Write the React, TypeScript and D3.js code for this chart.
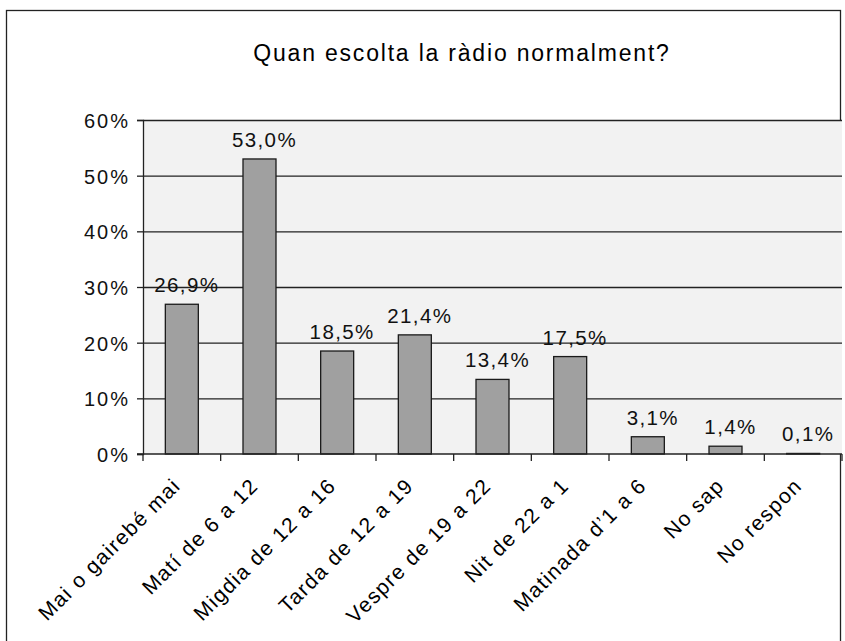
import { useEffect, useRef } from 'react';
import * as d3 from 'd3';

const categories = [
  'Mai o gairebé mai',
  'Matí de 6 a 12',
  'Migdia de 12 a 16',
  'Tarda de 12 a 19',
  'Vespre de 19 a 22',
  'Nit de 22 a 1',
  "Matinada d'1 a 6",
  'No sap',
  'No respon',
];
const values = [26.9, 53.0, 18.5, 21.4, 13.4, 17.5, 3.1, 1.4, 0.1];
const yTicks = [0, 10, 20, 30, 40, 50, 60];
const title = 'Quan escolta la ràdio normalment?';

const W = 845;
const H = 641;
const FONT = '"Liberation Sans", Arial, Helvetica, sans-serif';

export default function App() {
  const svgRef = useRef<SVGSVGElement>(null);

  useEffect(() => {
    if (!svgRef.current) return;
    const svg = d3.select(svgRef.current);
    svg.selectAll('*').remove();

    const plot = { left: 143, right: 842, top: 120, bottom: 454 };

    // outer frame
    svg.append('rect')
      .attr('x', 6.5).attr('y', 10.5)
      .attr('width', 834).attr('height', 660)
      .attr('fill', '#fff')
      .attr('stroke', '#222').attr('stroke-width', 1.3);

    svg.append('text')
      .attr('x', 462).attr('y', 61)
      .attr('text-anchor', 'middle')
      .style('font-family', FONT)
      .style('font-size', '23px')
      .style('letter-spacing', '1.8px')
      .style('fill', '#000')
      .text(title);

    const x = d3.scaleBand()
      .domain(categories)
      .range([plot.left, plot.right])
      .paddingInner(0)
      .paddingOuter(0);

    const y = d3.scaleLinear()
      .domain([0, 60])
      .range([plot.bottom, plot.top]);

    // plot background
    svg.append('rect')
      .attr('x', plot.left).attr('y', plot.top)
      .attr('width', plot.right - plot.left)
      .attr('height', plot.bottom - plot.top)
      .attr('fill', '#f2f2f2');

    // gridlines
    svg.append('g')
      .attr('transform', `translate(${plot.left},0)`)
      .call(d3.axisLeft(y).tickValues(yTicks.slice(1))
        .tickSize(-(plot.right - plot.left)).tickFormat(() => ''))
      .call(g => g.select('.domain').remove())
      .selectAll('line')
      .attr('stroke', '#222').attr('stroke-width', 1.3);

    // bars
    const bw = 33;
    svg.append('g')
      .selectAll('rect')
      .data(values)
      .enter().append('rect')
      .attr('x', (d, i) => (x(categories[i]) || 0) + x.bandwidth() / 2 - bw / 2)
      .attr('y', d => y(d))
      .attr('width', bw)
      .attr('height', d => y(0) - y(d))
      .attr('fill', '#a0a0a0')
      .attr('stroke', '#1a1a1a')
      .attr('stroke-width', 1.3);

    // value labels
    svg.append('g')
      .selectAll('text')
      .data(values)
      .enter().append('text')
      .attr('x', (d, i) => (x(categories[i]) || 0) + x.bandwidth() / 2 + 5)
      .attr('y', d => y(d) - 12)
      .attr('text-anchor', 'middle')
      .style('font-family', FONT)
      .style('font-size', '20.5px')
      .style('letter-spacing', '1.4px')
      .style('fill', '#111')
      .text(d => d.toFixed(1).replace('.', ',') + '%');

    // y axis
    const yAxis = svg.append('g')
      .attr('transform', `translate(${plot.left},0)`)
      .call(d3.axisLeft(y).tickValues(yTicks).tickSize(6).tickPadding(7)
        .tickFormat(d => `${d}%`));
    yAxis.select('.domain').attr('stroke', '#222').attr('stroke-width', 1.3);
    yAxis.selectAll('line').attr('stroke', '#222').attr('stroke-width', 1.3);
    yAxis.selectAll('text')
      .attr('dy', '0.38em')
      .style('font-family', FONT)
      .style('font-size', '20px')
      .style('letter-spacing', '2px')
      .style('fill', '#111');

    // x axis
    const xAxis = svg.append('g')
      .attr('transform', `translate(0,${plot.bottom})`);
    xAxis.append('line')
      .attr('x1', plot.left - 6).attr('x2', plot.right)
      .attr('stroke', '#222').attr('stroke-width', 1.3);
    const bounds = [...categories.map(c => x(c) || 0), plot.right];
    xAxis.selectAll('.xt')
      .data(bounds)
      .enter().append('line')
      .attr('class', 'xt')
      .attr('x1', d => d).attr('x2', d => d)
      .attr('y1', 0).attr('y2', 7)
      .attr('stroke', '#222').attr('stroke-width', 1.3);

    xAxis.selectAll('.xl')
      .data(categories)
      .enter().append('text')
      .attr('class', 'xl')
      .attr('text-anchor', 'end')
      .attr('transform', d => `translate(${(x(d) || 0) + x.bandwidth() / 2},${33}) rotate(-45)`)
      .style('font-family', FONT)
      .style('font-size', '21px')
      .style('letter-spacing', '1.4px')
      .style('fill', '#000')
      .text(d => d.replace("'", '’'));
  }, []);

  return (
    <svg
      ref={svgRef}
      width={W}
      height={H}
      style={{ position: 'absolute', left: 0, top: 0, display: 'block', background: '#fff' }}
    />
  );
}
